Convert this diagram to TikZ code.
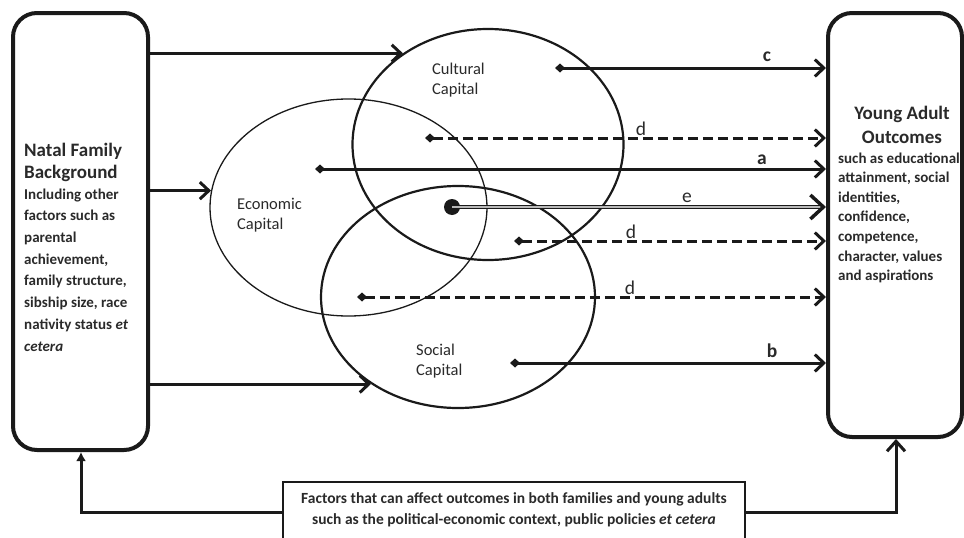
\documentclass[tikz,border=0pt]{standalone}
\usepackage{fontspec}
\setmainfont{Carlito}
\usetikzlibrary{arrows.meta,shapes.geometric}
\definecolor{ink}{HTML}{1A1A1A}
\definecolor{txt}{HTML}{2A2A2A}
\begin{document}
\begin{tikzpicture}[x=1pt,y=-1pt,
  bigbox/.style={draw=ink,line width=4pt,rounded corners=24pt,inner sep=0pt},
  capell/.style={ellipse,draw=ink,inner sep=0pt},
  lbl/.style={font=\fontsize{16.5}{20}\selectfont,text=txt,align=left,inner sep=0pt,anchor=base west},
  arr/.style={draw=ink,line width=3pt,{Diamond[length=10pt,width=9pt]}-{Straight Barb[length=9pt,width=17pt]}},
  darr/.style={arr,dash pattern=on 10pt off 5pt},
  inarr/.style={draw=ink,line width=3pt,-{Straight Barb[length=9pt,width=17pt]}},
  earr/.style={draw=ink,line width=1.2pt,double=gray!55,double distance=1.4pt,-{Straight Barb[length=13pt,width=24pt,line width=3.5pt]}},
  bl/.style={font=\fontsize{19.5}{20}\selectfont\bfseries,text=txt,anchor=base,inner sep=0pt},
  rl/.style={font=\fontsize{19.5}{20}\selectfont,text=txt,anchor=base,inner sep=0pt},
  bodytxt/.style={font=\fontsize{15}{#1}\selectfont\bfseries,text=txt,align=left,anchor=base west,inner sep=0pt},
  titletxt/.style={font=\fontsize{19}{#1}\selectfont\bfseries,text=txt,inner sep=0pt}
]
\clip (0,0) rectangle (964,538);
\useasboundingbox (0,0) rectangle (964,538);

% boxes
\node[bigbox,minimum width=135pt,minimum height=437pt] (lb) at (80.5,231.5) {};
\node[bigbox,minimum width=134pt,minimum height=424pt] (yb) at (895,225) {};
\node[draw=ink,line width=2pt,inner sep=0pt,minimum width=462pt,minimum height=90pt,anchor=north] (fac) at (514,481) {};

% box texts (base anchor = baseline of last line)
\node[titletxt=22pt,align=left,anchor=base west] (lt) at (24,178) {Natal Family\\Background};
\node[bodytxt=21.7pt] (lbt) at (24,351) {Including other\\factors such as\\parental\\achievement,\\family structure,\\sibship size, race\\nativity status \textit{et}\\\textit{cetera}};
\node[titletxt=24pt,align=center,anchor=base] (yt) at (902,143) {Young Adult\\Outcomes};
\node[bodytxt=19.6pt] (ybt) at (838,280.6) {such as educational\\attainment, social\\identities,\\confidence,\\competence,\\character, values\\and aspirations};
\node[font=\fontsize{15.5}{21}\selectfont\bfseries,text=txt,align=center,inner sep=0pt,anchor=base] (fact) at (514,524.5) {Factors that can affect outcomes in both families and young adults\\such as the political-economic context, public policies \textit{et cetera}};

% capital ellipses
\node[capell,line width=1.3pt,minimum width=277pt,minimum height=217pt] (econ) at (348.5,207.5) {};
\node[capell,line width=2.2pt,minimum width=271pt,minimum height=231pt] (cult) at (488,144.5) {};
\node[capell,line width=2.2pt,minimum width=274pt,minimum height=222pt] (soc) at (458,297) {};
\node[lbl] (cultl) at (432,94) {Cultural\\Capital};
\node[lbl] (econl) at (237,229) {Economic\\Capital};
\node[lbl] (socl) at (416,375) {Social\\Capital};

% arrows from family background
\draw[inarr] (cult.133 -| lb.east) -- (cult.133);
\draw[inarr] (econ.173 -| lb.east) -- (econ.173);
\draw[inarr] (soc.225 -| lb.east) -- (soc.225);

% arrows to outcomes
\coordinate (sc) at (555,68);
\coordinate (sd1) at (425,138);
\coordinate (sa) at (315,169);
\coordinate (sd2) at (514,241);
\coordinate (sd3) at (357,297);
\coordinate (sb) at (510,363);
\node[circle,fill=ink,inner sep=0pt,minimum size=16pt] (edot) at (452,207) {};

\draw[arr] (sc) -- (sc -| yb.west);
\draw[darr] (sd1) -- (sd1 -| yb.west);
\draw[arr] (sa) -- (sa -| yb.west);
\draw[earr] (edot.center) -- (edot -| yb.west);
\draw[darr] (sd2) -- (sd2 -| yb.west);
\draw[darr] (sd3) -- (sd3 -| yb.west);
\draw[arr] (sb) -- (sb -| yb.west);

% path labels
\node[bl] (lc) at (767,61) {c};
\node[rl] (ld1) at (641,135) {d};
\node[bl] (la) at (762,164) {a};
\node[rl] (le) at (687,202) {e};
\node[rl] (ld2) at (631,238) {d};
\node[rl] (ld3) at (630,294) {d};
\node[bl] (lbb) at (772,357) {b};

% bottom context arrows
\coordinate (jl) at (81,512);
\coordinate (jr) at (896,512);
\draw[draw=ink,line width=3pt,-{Latex[length=9pt,width=10pt]}] (fac.west |- jl) -| (lb.south -| jl);
\draw[draw=ink,line width=3pt,-{Straight Barb[length=10pt,width=18pt]}] (fac.east |- jr) -| (yb.south -| jr);
\end{tikzpicture}
\end{document}
